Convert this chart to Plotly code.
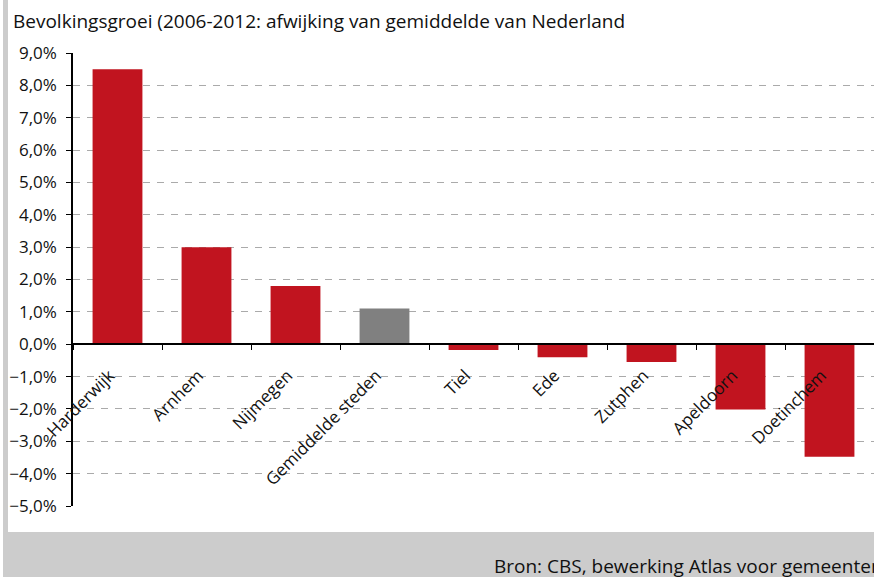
import plotly.graph_objects as go

# Population growth 2006-2012, deviation from the Dutch average (percentage points)
cities = ["Harderwijk", "Arnhem", "Nijmegen", "Gemiddelde steden", "Tiel",
          "Ede", "Zutphen", "Apeldoorn", "Doetinchem"]
growth = [8.5, 3.0, 1.8, 1.1, -0.18, -0.4, -0.55, -2.02, -3.48]
bar_colors = ["#c1141f", "#c1141f", "#c1141f", "#808080", "#c1141f",
              "#c1141f", "#c1141f", "#c1141f", "#c1141f"]

title_text = "Bevolkingsgroei (2006-2012: afwijking van gemiddelde van Nederland"
source_text = "Bron: CBS, bewerking Atlas voor gemeenten"

Y_MIN, Y_MAX = -5, 9
W, H = 874, 577
ML, MR, MT, MB = 73, 0, 53, 71
PW, PH = W - ML - MR, H - MT - MB

FONT = "Open Sans"


def px_x(px):
    return (px - ML) / PW


def px_y(py):
    return (H - MB - py) / PH


fig = go.Figure(go.Bar(
    x=cities,
    y=growth,
    marker=dict(color=bar_colors, line=dict(width=0)),
    width=0.56,
    hoverinfo="x+y",
))

# grey frame: thin strip on the left and a band along the bottom
fig.add_shape(type="rect", xref="paper", yref="paper",
              x0=px_x(3), x1=px_x(8), y0=px_y(H), y1=px_y(0),
              fillcolor="#cccccc", line=dict(width=0), layer="below")
fig.add_shape(type="rect", xref="paper", yref="paper",
              x0=px_x(3), x1=px_x(W), y0=px_y(H), y1=px_y(532),
              fillcolor="#cccccc", line=dict(width=0), layer="below")

fig.add_annotation(text=source_text, xref="paper", yref="paper",
                   x=px_x(492), y=px_y(566), xanchor="left", yanchor="middle",
                   showarrow=False, font=dict(family=FONT, size=19, color="#111111"))

fig.update_layout(
    width=W, height=H,
    margin=dict(l=ML, r=MR, t=MT, b=MB, pad=0),
    paper_bgcolor="white", plot_bgcolor="white",
    separators=",.",
    showlegend=False,
    font=dict(family=FONT, size=17, color="#111111"),
    title=dict(text=title_text, xref="container", yref="container",
               x=13 / W, xanchor="left", y=1 - 21 / H, yanchor="middle",
               font=dict(family=FONT, size=19, color="#111111")),
    xaxis=dict(
        type="category", categoryorder="array", categoryarray=cities,
        range=[-0.5, len(cities) - 0.5],
        anchor="free", position=(0 - Y_MIN) / (Y_MAX - Y_MIN),
        showline=True, linecolor="#000000", linewidth=1.5,
        ticks="outside", tickson="boundaries", ticklen=5, tickcolor="#000000",
        tickangle=-45, showgrid=False, zeroline=False,
        ticklabelstandoff=14, ticklabelshift=-8,
        tickfont=dict(family=FONT, size=17, color="#111111"),
    ),
    yaxis=dict(
        range=[Y_MIN, Y_MAX], tick0=0, dtick=1,
        tickformat=".1f", ticksuffix="%",
        showline=True, linecolor="#000000", linewidth=1.5,
        ticks="outside", ticklen=5, tickcolor="#000000",
        ticklabelstandoff=6,
        showgrid=True, gridcolor="#aaaaaa", gridwidth=1, griddash="7px,7px",
        zeroline=False,
        tickfont=dict(family=FONT, size=17, color="#111111"),
    ),
)

fig.write_html("out.html")
